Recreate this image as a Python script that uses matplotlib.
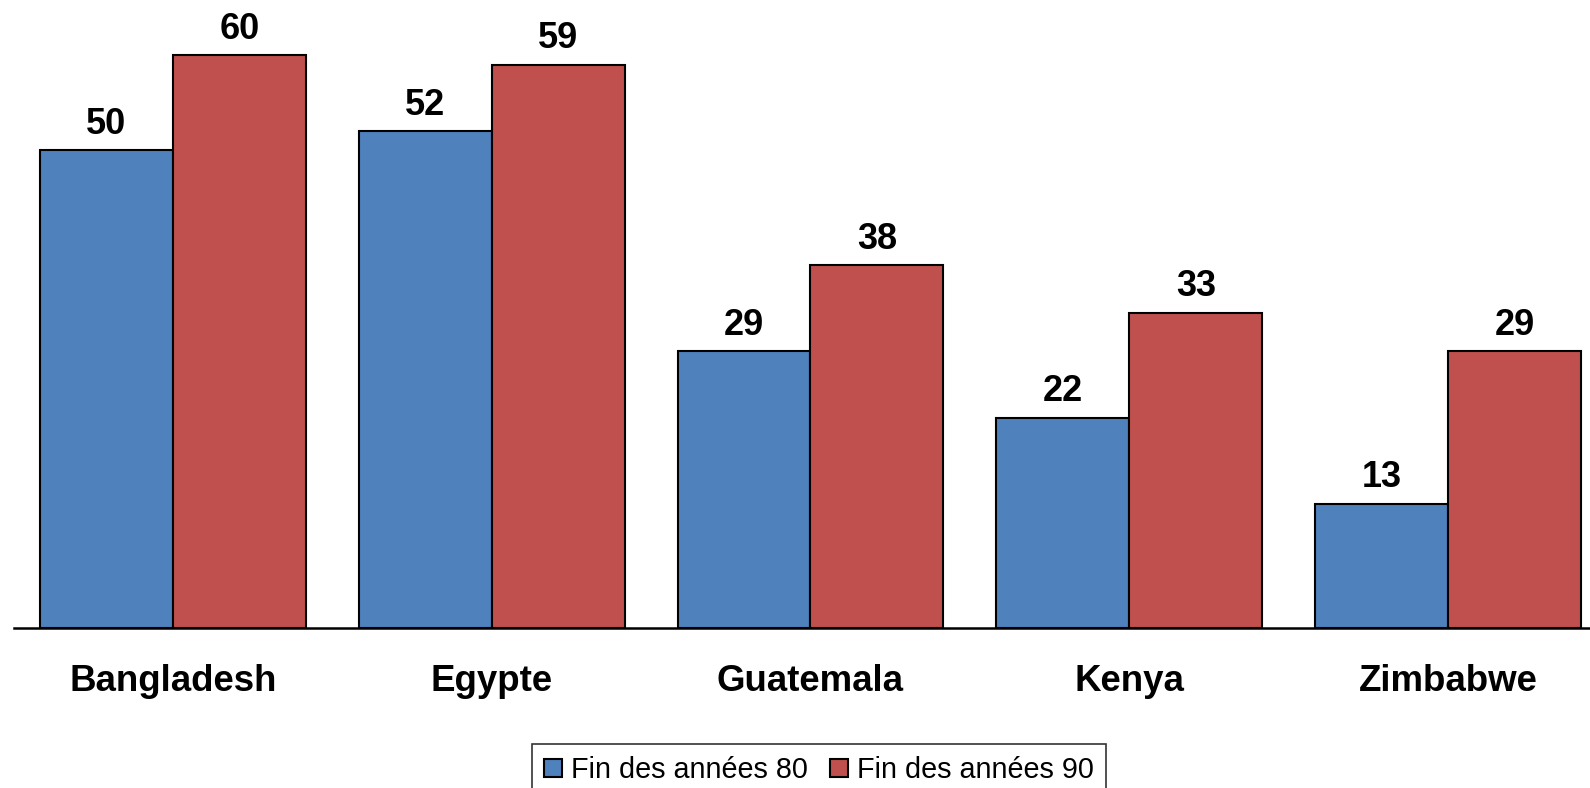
import matplotlib
matplotlib.use("Agg")
import matplotlib.pyplot as plt
import numpy as np

categories = ["Bangladesh", "Egypte", "Guatemala", "Kenya", "Zimbabwe"]
series_names = ["Fin des années 80", "Fin des années 90"]
values_80 = [50, 52, 29, 22, 13]
values_90 = [60, 59, 38, 33, 29]
colors = ["#4F81BD", "#C0504D"]

plt.rcParams['font.family'] = ['Liberation Sans', 'DejaVu Sans']

W, H = 1590, 788
fig = plt.figure(figsize=(W / 100, H / 100), dpi=100)
left_px = 13.5
pitch_px = 318.8
base_px = 627.7
unit_px = 9.545
ax = fig.add_axes([left_px / W, (H - base_px) / H, 1 - left_px / W, base_px / H])

x = np.arange(len(categories))
bw = 0.4167
b1 = ax.bar(x - bw / 2, values_80, bw, color=colors[0], edgecolor="black", linewidth=1.5, label=series_names[0])
b2 = ax.bar(x + bw / 2, values_90, bw, color=colors[1], edgecolor="black", linewidth=1.5, label=series_names[1])

for bars, vals in ((b1, values_80), (b2, values_90)):
    for rect, v in zip(bars, vals):
        ax.annotate(str(v), (rect.get_x() + rect.get_width() / 2, rect.get_height()),
                    xytext=(0, 6), textcoords="offset points", ha="center", va="bottom",
                    fontsize=26, fontweight="bold", color="black")

ax.set_xlim(-0.5, -0.5 + (W - left_px) / pitch_px)
ax.set_ylim(0, base_px / unit_px)
ax.set_xticks(x)
ax.set_xticklabels(categories, fontsize=26.4, fontweight="bold")
ax.tick_params(axis="x", length=0, pad=26)
ax.set_yticks([])
for s in ["top", "right", "left"]:
    ax.spines[s].set_visible(False)
ax.spines["bottom"].set_linewidth(1.8)
ax.patch.set_alpha(0)

leg = fig.legend(handles=[b1, b2], labels=series_names, loc="upper left",
                 bbox_to_anchor=(532 / W, 1 - 744 / H), ncol=2, frameon=True, fancybox=False,
                 edgecolor="black", fontsize=20.7, handlelength=0.62, handleheight=0.62,
                 handletextpad=0.3, columnspacing=0.8, borderpad=0.42, borderaxespad=0)
leg.get_frame().set_linewidth(1.2)

fig.savefig("out.png", dpi=100)
